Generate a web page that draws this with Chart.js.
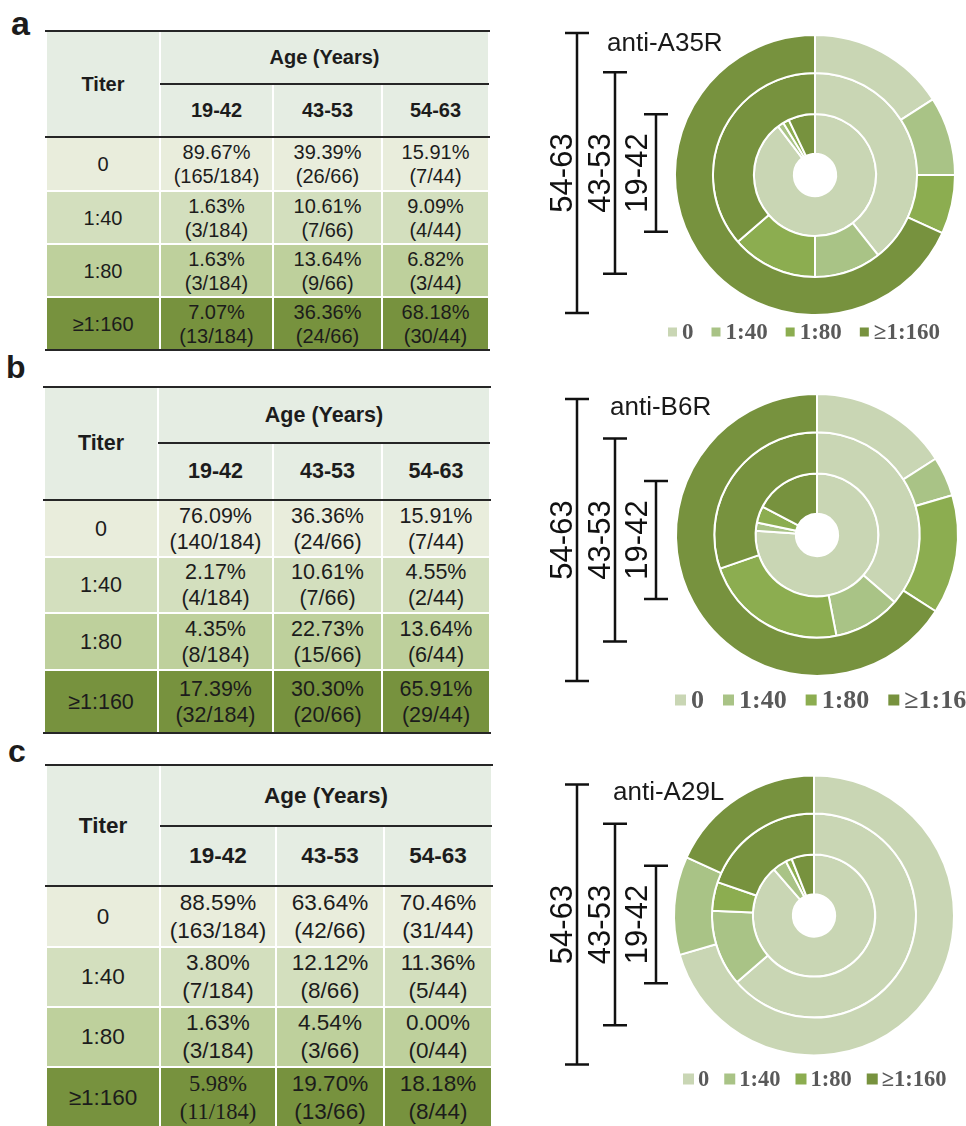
<!DOCTYPE html>
<html>
<head>
<meta charset="utf-8">
<script src="https://cdn.jsdelivr.net/npm/chart.js@4.4.1/dist/chart.umd.min.js"></script>
<style>
  body { margin: 0; background: #fff; width: 966px; height: 1126px; overflow: hidden; position: relative;
         font-family: 'Liberation Sans', Arial, sans-serif; color: #1c1c1c; }
  .cell { position: absolute; display: flex; align-items: center; justify-content: center;
          text-align: center; box-sizing: border-box; white-space: nowrap; }
  .rule { position: absolute; background: #262626; height: 2px; }
  .letter { position: absolute; font-weight: bold; line-height: 1; }
  canvas { position: absolute; left: 530px; }
</style>
</head>
<body>
<script>
const titers = ['0', '1:40', '1:80', '≥1:160'];
const ageGroups = ['19-42', '43-53', '54-63'];
const groupSizes = [184, 66, 44];
const antigens = ['anti-A35R', 'anti-B6R', 'anti-A29L'];

// rows = titer, columns = age group
const a35rPct = [[89.67, 39.39, 15.91], [1.63, 10.61, 9.09], [1.63, 13.64, 6.82], [7.07, 36.36, 68.18]];
const a35rCount = [[165, 26, 7], [3, 7, 4], [3, 9, 3], [13, 24, 30]];
const b6rPct = [[76.09, 36.36, 15.91], [2.17, 10.61, 4.55], [4.35, 22.73, 13.64], [17.39, 30.30, 65.91]];
const b6rCount = [[140, 24, 7], [4, 7, 2], [8, 15, 6], [32, 20, 29]];
const a29lPct = [[88.59, 63.64, 70.46], [3.80, 12.12, 11.36], [1.63, 4.54, 0.00], [5.98, 19.70, 18.18]];
const a29lCount = [[163, 42, 31], [7, 8, 5], [3, 3, 0], [11, 13, 8]];

const pieColors = ['#c9d6b4', '#a9c386', '#8cad50', '#77923e'];
const rowColors = ['#e9eddc', '#d3dfbe', '#bed09c', '#77923e'];
const headBg = '#e5ede3';

const panels = [
  { letter: 'a', letterPos: [11, 6, 34], pct: a35rPct, count: a35rCount, title: antigens[0],
    colX: [46, 160, 273, 382, 489], rowY: [31, 84, 137, 191, 244, 297, 350], font: 20, lh: 24,
    top: 20, cx: 285, cy: 155, r: 140, shift: -2, titleX: 77, titleY: 24,
    legendX: 138, legendY: 312, legendFont: 23, box: 9, boxGap: 5, itemGap: 18 },
  { letter: 'b', letterPos: [6, 351, 32], pct: b6rPct, count: b6rCount, title: antigens[1],
    colX: [44, 158, 273, 382, 490], rowY: [387, 443, 500, 557, 613, 670, 733], font: 21.5, lh: 26,
    top: 380, cx: 287, cy: 155, r: 141, shift: 5, titleX: 80, titleY: 28,
    legendX: 145, legendY: 320, legendFont: 26, box: 11, boxGap: 5, itemGap: 19 },
  { letter: 'c', letterPos: [8, 735, 32], pct: a29lPct, count: a29lCount, title: antigens[2],
    colX: [46, 160, 276, 384, 492], rowY: [765, 826, 886, 947, 1007, 1067, 1128], font: 22.5, lh: 28,
    top: 760, cx: 284, cy: 155.5, r: 140, shift: 9, titleX: 83, titleY: 33,
    legendX: 153, legendY: 319, legendFont: 22.5, box: 11, boxGap: 4, itemGap: 15, serifCell: [3, 0] }
];

function addCell(x, y, w, h, bg, html, style) {
  const d = document.createElement('div');
  d.className = 'cell';
  d.style.cssText = `left:${x + 1}px;top:${y + 1}px;width:${w - 2}px;height:${h - 2}px;background:${bg};` + (style || '');
  d.innerHTML = html;
  document.body.appendChild(d);
}

function addRule(x1, x2, y) {
  const d = document.createElement('div');
  d.className = 'rule';
  d.style.cssText = `left:${x1}px;top:${y - 1}px;width:${x2 - x1}px;`;
  document.body.appendChild(d);
}

function buildTable(p) {
  const X = p.colX, Y = p.rowY;
  const head = `font-size:${p.font}px;font-weight:bold;`;
  const body = `font-size:${p.font}px;line-height:${p.lh}px;`;
  addCell(X[0], Y[0], X[1] - X[0], Y[2] - Y[0], headBg, 'Titer', head);
  addCell(X[1], Y[0], X[4] - X[1], Y[1] - Y[0], headBg, 'Age (Years)', head);
  ageGroups.forEach((g, j) => addCell(X[j + 1], Y[1], X[j + 2] - X[j + 1], Y[2] - Y[1], headBg, g, head));
  titers.forEach((t, i) => {
    const y = Y[i + 2], h = Y[i + 3] - Y[i + 2];
    addCell(X[0], y, X[1] - X[0], h, rowColors[i], t, body);
    ageGroups.forEach((g, j) => {
      let st = body;
      if (p.serifCell && p.serifCell[0] === i && p.serifCell[1] === j) {
        st += "font-family:'Liberation Serif',serif;";
      }
      const txt = p.pct[i][j].toFixed(2) + '%<br>(' + p.count[i][j] + '/' + groupSizes[j] + ')';
      addCell(X[j + 1], y, X[j + 2] - X[j + 1], h, rowColors[i], txt, st);
    });
  });
  addRule(X[0] - 1, X[4] + 1, Y[0]);
  addRule(X[1], X[4], Y[1]);
  addRule(X[0] - 1, X[4] + 1, Y[2]);
  addRule(X[0] - 1, X[4] + 1, Y[6]);

  const L = document.createElement('div');
  L.className = 'letter';
  L.style.cssText = `left:${p.letterPos[0]}px;top:${p.letterPos[1]}px;font-size:${p.letterPos[2]}px;`;
  L.textContent = p.letter;
  document.body.appendChild(L);
}

const ringDecor = {
  id: 'ringDecor',
  afterDraw(chart, args, o) {
    const ctx = chart.ctx;
    const first = chart.getDatasetMeta(0).data[0];
    const cy = first.y + o.shift;
    ctx.save();
    ctx.fillStyle = '#1a1a1a';
    ctx.font = '26px "Liberation Sans", Arial';
    ctx.textAlign = 'left';
    ctx.textBaseline = 'middle';
    ctx.fillText(o.title, o.titleX, o.titleY);

    const bx = [47, 85, 126], gap = [5, 5, 9];
    chart.data.datasets.forEach((ds, i) => {
      const r = chart.getDatasetMeta(i).data[0].outerRadius - i * 1.2;
      const x = bx[i];
      ctx.strokeStyle = '#111';
      ctx.lineWidth = 2.5;
      ctx.beginPath();
      ctx.moveTo(x, cy - r); ctx.lineTo(x, cy + r);
      ctx.moveTo(x - 12, cy - r); ctx.lineTo(x + 12, cy - r);
      ctx.moveTo(x - 12, cy + r); ctx.lineTo(x + 12, cy + r);
      ctx.stroke();
      ctx.save();
      ctx.translate(x - gap[i], cy);
      ctx.rotate(-Math.PI / 2);
      ctx.textAlign = 'center';
      ctx.textBaseline = 'alphabetic';
      ctx.font = '31px "Liberation Sans", Arial';
      ctx.fillStyle = '#111';
      ctx.fillText(ds.label, 0, 0);
      ctx.restore();
    });

    let lx = o.legendX;
    ctx.font = `bold ${o.legendFont}px "Liberation Serif", serif`;
    ctx.textBaseline = 'middle';
    chart.data.labels.forEach((lab, k) => {
      ctx.fillStyle = chart.data.datasets[0].backgroundColor[k];
      ctx.fillRect(lx, o.legendY - o.box / 2, o.box, o.box);
      lx += o.box + o.boxGap;
      ctx.fillStyle = '#595959';
      ctx.fillText(lab, lx, o.legendY + 1);
      lx += ctx.measureText(lab).width + o.itemGap;
    });
    ctx.restore();
  }
};

const W = 436, H = 345;
const ringWeights = [38, 41, 40];

panels.forEach(p => {
  buildTable(p);
  const cv = document.createElement('canvas');
  cv.width = W; cv.height = H;
  cv.style.top = p.top + 'px';
  document.body.appendChild(cv);
  new Chart(cv, {
    type: 'doughnut',
    data: {
      labels: titers,
      datasets: [2, 1, 0].map((j, k) => ({
        label: ageGroups[j],
        data: p.pct.map(row => row[j]),
        backgroundColor: pieColors,
        borderColor: '#ffffff',
        borderWidth: 2,
        weight: ringWeights[k]
      }))
    },
    options: {
      responsive: false,
      animation: false,
      radius: p.r,
      cutout: 21,
      layout: { padding: { left: p.cx - p.r, right: W - p.cx - p.r, top: p.cy - p.r, bottom: H - p.cy - p.r } },
      plugins: {
        legend: { display: false },
        tooltip: { enabled: false },
        ringDecor: p
      }
    },
    plugins: [ringDecor]
  });
});
</script>
</body>
</html>
